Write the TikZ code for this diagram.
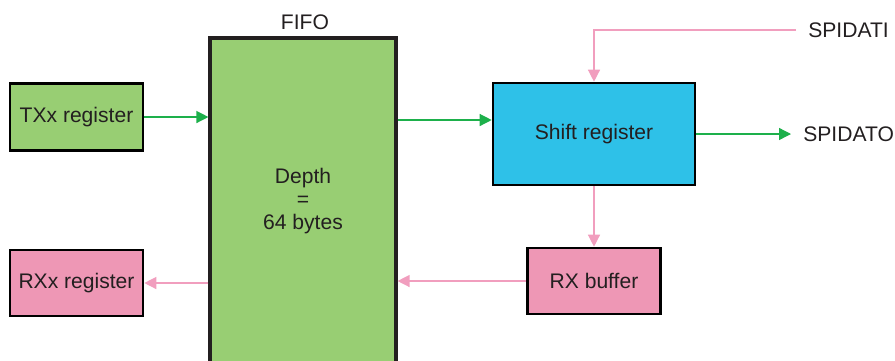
\documentclass[tikz,border=0pt]{standalone}
\usepackage{fontspec}
\setmainfont{Liberation Sans}
\usetikzlibrary{arrows.meta}
\definecolor{fifogreen}{HTML}{98CE73}
\definecolor{shiftblue}{HTML}{2EC1E8}
\definecolor{rxpink}{HTML}{EE97B5}
\definecolor{txline}{HTML}{1DB04B}
\definecolor{rxline}{HTML}{F19EBE}
\definecolor{inktext}{HTML}{231F20}
\begin{document}
\begin{tikzpicture}[
    x=0.02cm, y=-0.02cm,
    every node/.style={font=\fontsize{12}{13}\selectfont, text=inktext},
    block/.style={draw=black, line width=1.5pt, inner sep=0pt, align=center},
    signal/.style={inner xsep=0.24cm},
    txarrow/.style={draw=txline, line width=0.75pt, -{Triangle[length=0.24cm, width=0.24cm]}},
    rxarrow/.style={draw=rxline, line width=0.75pt, -{Triangle[length=0.24cm, width=0.24cm]}},
  ]
    \clip (0, 0) rectangle (895, 360);

    % Blocks
    \node[block, fill=fifogreen, draw=inktext, line width=1.8pt, minimum width=3.72cm, minimum height=6.52cm] (fifo) at (303, 201) {Depth\\=\\64 bytes};
    \node (fifolabel) at (305, 22) {FIFO};
    \node[block, fill=fifogreen, minimum width=2.66cm, minimum height=1.34cm] (txx) at (76.5, 117) {TXx register};
    \node[block, fill=rxpink, minimum width=2.66cm, minimum height=1.32cm] (rxx) at (76.5, 283) {RXx register};
    \node[block, fill=shiftblue, minimum width=4.04cm, minimum height=2.04cm] (shift) at (594, 134) {Shift register};
    \node[block, fill=rxpink, minimum width=2.66cm, minimum height=1.32cm] (rxbuf) at (594, 281) {RX buffer};

    % Signals
    \node[signal, anchor=west] (spidati) at (796, 30) {SPIDATI};
    \node[signal, anchor=west] (spidato) at (791, 134) {SPIDATO};

    % Transmit path
    \coordinate (shiftin) at ([yshift=0.28cm]shift.west);
    \draw[txarrow] (txx.east) -- (txx.east -| fifo.west);
    \draw[txarrow] (shiftin -| fifo.east) -- (shiftin);
    \draw[txarrow] (shift.east) -- (spidato.west);

    % Receive path
    \draw[rxarrow] (spidati.west) -| (shift.north);
    \draw[rxarrow] (shift.south) -- (rxbuf.north);
    \draw[rxarrow] (rxbuf.west) -- (rxbuf.west -| fifo.east);
    \draw[rxarrow] (rxx.east -| fifo.west) -- (rxx.east);
  \end{tikzpicture}
\end{document}
